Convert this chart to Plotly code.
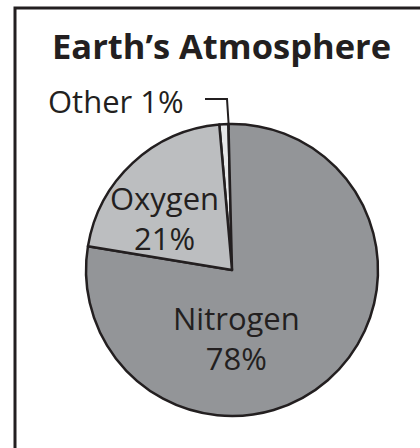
import plotly.graph_objects as go

# Data
labels = ["Other", "Nitrogen", "Oxygen"]
values = [1, 78, 21]
colors = ["#e6e7e8", "#939598", "#bcbec0"]
title_text = "Earth\u2019s Atmosphere"

W, H = 420, 448
def px(x):
    return x / W
def py(y):
    return 1 - y / H

FONT = "Open Sans"
INK = "#231f20"

fig = go.Figure(go.Pie(
    labels=labels,
    values=values,
    sort=False,
    direction="clockwise",
    rotation=-5,
    marker=dict(colors=colors, line=dict(color=INK, width=2.5)),
    textinfo="none",
    hoverinfo="label+percent",
    showlegend=False,
    domain=dict(x=[px(86), px(378)], y=[py(416), py(124)]),
))

annotations = [
    dict(text=f"<b>{title_text}</b>", x=px(221), y=py(46), font=dict(size=34.5, color=INK, family=FONT)),
    dict(text=f"{labels[0]} {values[0]}%", x=px(116), y=py(101), font=dict(size=31, color=INK, family=FONT)),
    dict(text=f"{labels[2]}<br>{values[2]}%", x=px(164), y=py(218), font=dict(size=31, color=INK, family=FONT)),
    dict(text=f"{labels[1]}<br>{values[1]}%", x=px(236), y=py(338), font=dict(size=31, color=INK, family=FONT)),
]
for a in annotations:
    a.update(xref="paper", yref="paper", showarrow=False, xanchor="center", yanchor="middle")

shapes = [
    dict(type="rect", xref="paper", yref="paper", x0=px(15), x1=1.1, y0=-0.1, y1=py(8),
         line=dict(color=INK, width=3), fillcolor="rgba(0,0,0,0)", layer="below"),
    dict(type="path", xref="paper", yref="paper",
         path=f"M {px(205)} {py(99)} L {px(227)} {py(99)} L {px(229)} {py(130)}",
         line=dict(color=INK, width=2)),
]

fig.update_layout(
    width=W, height=H,
    margin=dict(l=0, r=0, t=0, b=0),
    paper_bgcolor="white",
    plot_bgcolor="white",
    annotations=annotations,
    shapes=shapes,
)

fig.write_html("out.html")
